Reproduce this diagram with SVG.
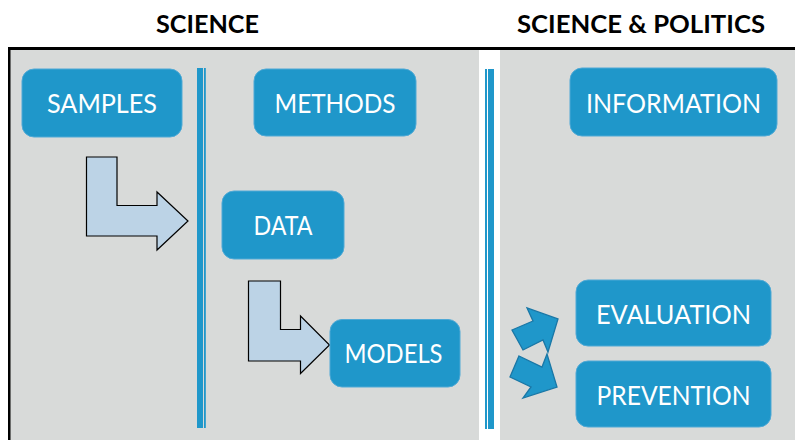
<svg xmlns="http://www.w3.org/2000/svg" width="795" height="440" viewBox="0 0 795 440">
  <style>
    .title { font-family: Lato, "Open Sans", "Liberation Sans", sans-serif; font-weight: bold; font-size: 25px; fill: #000; text-anchor: middle; }
    .box { fill: #1f97ca; stroke: #4fa9d6; stroke-width: 1; }
    .label { font-family: Lato, "Open Sans", "Liberation Sans", sans-serif; font-size: 26.5px; fill: #fff; text-anchor: middle; }
    .panel { fill: #d8dad9; }
    .bar { fill: #1f97ca; }
    .bend { fill: #bcd3e6; stroke: #000; stroke-width: 1.2; stroke-linejoin: miter; }
    .turn { fill: #1f97ca; stroke: #1a77a6; stroke-width: 1.3; stroke-linejoin: miter; }
  </style>

  <!-- background -->
  <rect x="0" y="0" width="795" height="440" fill="#ffffff"/>

  <!-- headings -->
  <text class="title" x="207.5" y="33" textLength="103" lengthAdjust="spacingAndGlyphs">SCIENCE</text>
  <text class="title" x="641" y="33" textLength="248" lengthAdjust="spacingAndGlyphs">SCIENCE &amp; POLITICS</text>

  <!-- panels -->
  <rect class="panel" x="10" y="50" width="469" height="390"/>
  <rect class="panel" x="500" y="50" width="295" height="390"/>
  <rect x="8" y="47" width="787" height="3" fill="#000"/>
  <rect x="8" y="47" width="2.5" height="393" fill="#000"/>

  <!-- double divider bars -->
  <rect class="bar" x="197" y="68" width="6" height="360"/>
  <rect class="bar" x="204" y="68" width="1.8" height="360"/>
  <rect class="bar" x="485" y="69" width="2" height="360"/>
  <rect class="bar" x="488" y="69" width="6" height="360"/>

  <!-- connectors -->
  <g id="connectors">
    <polygon class="bend" points="86.5,157 117,157 117,205.5 157,205.5 157,192 188,221 157,250 157,236 86.5,236"/>
    <polygon class="bend" points="248.5,281 280.5,281 280.5,329.5 300.5,329.5 300.5,316 329.5,345 300.5,373.5 300.5,361 248.5,361"/>
    <polygon class="turn" points="512,330 533,321 527,308 558,319 548,352 543,340 523,350"/>
    <polygon class="turn" points="519,356 542,367 547,354 557,387 523,398 531,387 510,377"/>
  </g>

  <!-- nodes -->
  <g id="samples">
    <rect class="box" x="22" y="69" width="160" height="68" rx="12"/>
    <text class="label" x="102" y="113" textLength="110" lengthAdjust="spacingAndGlyphs">SAMPLES</text>
  </g>
  <g id="methods">
    <rect class="box" x="254" y="69" width="162" height="67" rx="12"/>
    <text class="label" x="335" y="113" textLength="121" lengthAdjust="spacingAndGlyphs">METHODS</text>
  </g>
  <g id="information">
    <rect class="box" x="570" y="68" width="207" height="68" rx="12"/>
    <text class="label" x="673.5" y="112.5" textLength="175" lengthAdjust="spacingAndGlyphs">INFORMATION</text>
  </g>
  <g id="data">
    <rect class="box" x="222" y="191" width="122" height="68" rx="12"/>
    <text class="label" x="283" y="235" textLength="59" lengthAdjust="spacingAndGlyphs">DATA</text>
  </g>
  <g id="models">
    <rect class="box" x="330" y="319.5" width="130" height="67.5" rx="12"/>
    <text class="label" x="393.5" y="362.5" textLength="98" lengthAdjust="spacingAndGlyphs">MODELS</text>
  </g>
  <g id="evaluation">
    <rect class="box" x="576" y="280" width="195" height="66" rx="12"/>
    <text class="label" x="673.5" y="324" textLength="155" lengthAdjust="spacingAndGlyphs">EVALUATION</text>
  </g>
  <g id="prevention">
    <rect class="box" x="576" y="361" width="195" height="66" rx="12"/>
    <text class="label" x="673.5" y="405" textLength="154" lengthAdjust="spacingAndGlyphs">PREVENTION</text>
  </g>
</svg>
